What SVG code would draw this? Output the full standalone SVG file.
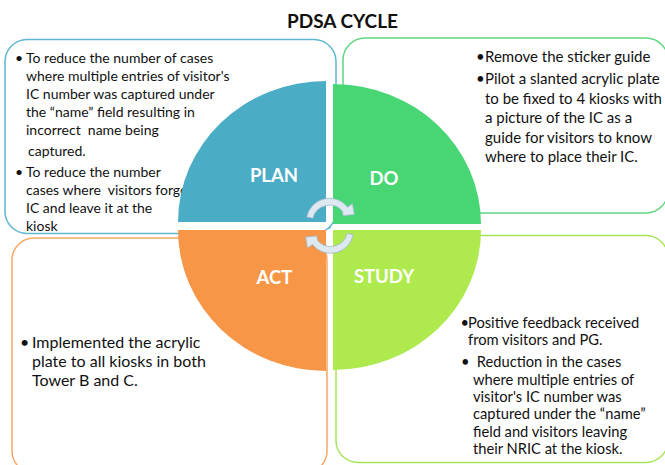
<svg xmlns="http://www.w3.org/2000/svg" width="665" height="465" viewBox="0 0 665 465">
  <defs>
    <style>
      .box { fill: #ffffff; stroke-width: 1.5; }
      .txt { font-family: Lato, "Liberation Sans", sans-serif; fill: #111111; }
      .lbl { font-family: Lato, "Liberation Sans", sans-serif; font-weight: bold; fill: #ffffff; font-size: 18.5px; text-anchor: middle; }
      .title { font-family: Lato, "Liberation Sans", sans-serif; font-weight: bold; fill: #111111; font-size: 19px; text-anchor: middle; }
      .arrow { fill: #dde8f0; stroke: #9fb9cc; stroke-width: 0.8; stroke-linejoin: round; }
    </style>
    <!-- curved cycle arrow, drawn for the upper half; the lower one is the same shape turned 180 degrees -->
    <path id="cycleArrow" d="M306.8,217 A23,23 0 0 1 347.6,207.2 L352.5,203.5 L354.3,214.5 L343.2,215.7 L342.4,211.2 A17,17 0 0 0 312.9,218.2 Z"/>
  </defs>

  <rect width="665" height="465" fill="#ffffff"/>

  <text class="title" x="342.5" y="28">PDSA CYCLE</text>

  <!-- PLAN -->
  <g id="plan">
    <rect class="box" x="5" y="39.5" width="331" height="194" rx="22" stroke="#5fb7d1"/>
    <g class="txt" font-size="14">
      <text x="15" y="63">•</text>
      <text x="26" y="63">To reduce the number of cases</text>
      <text x="26" y="81">where multiple entries of visitor's</text>
      <text x="26" y="99">IC number was captured under</text>
      <text x="26" y="117">the “name” field resulting in</text>
      <text x="26" y="135" xml:space="preserve">incorrect  name being</text>
      <text x="28" y="156">captured.</text>
      <text x="15" y="177">•</text>
      <text x="26" y="177">To reduce the number</text>
      <text x="26" y="195" xml:space="preserve">cases where  visitors forgot their</text>
      <text x="26" y="213">IC and leave it at the</text>
      <text x="26" y="231">kiosk</text>
    </g>
    <path d="M326,222 L178,222 A148,141 0 0 1 326,81 Z" fill="#4bacc6"/>
    <text class="lbl" x="274" y="182">PLAN</text>
  </g>

  <!-- DO -->
  <g id="do">
    <rect class="box" x="343" y="38" width="325" height="175" rx="22" stroke="#5fd682"/>
    <g class="txt" font-size="15">
      <text x="476" y="62">•</text>
      <text x="485" y="62">Remove the sticker guide</text>
      <text x="476" y="84">•</text>
      <text x="485" y="84">Pilot a slanted acrylic plate</text>
      <text x="485" y="104">to be fixed to 4 kiosks with</text>
      <text x="485" y="123">a picture of the IC as a</text>
      <text x="485" y="143">guide for visitors to know</text>
      <text x="485" y="162">where to place their IC.</text>
    </g>
    <path d="M333,224 L333,84 A148,140 0 0 1 481,224 Z" fill="#48d675"/>
    <text class="lbl" x="384" y="185">DO</text>
  </g>

  <!-- STUDY -->
  <g id="study">
    <rect class="box" x="336" y="235.5" width="332" height="227" rx="22" stroke="#a8e45a"/>
    <g class="txt" font-size="14.7">
      <text x="460.5" y="328">•</text>
      <text x="468" y="328">Positive feedback received</text>
      <text x="468" y="345">from visitors and PG.</text>
      <text x="461" y="367">•</text>
      <text x="473" y="367" xml:space="preserve"> Reduction in the cases</text>
      <text x="473" y="385">where multiple entries of</text>
      <text x="473" y="402">visitor's IC number was</text>
      <text x="473" y="419">captured under the “name”</text>
      <text x="473" y="437">field and visitors leaving</text>
      <text x="473" y="454">their NRIC at the kiosk.</text>
    </g>
    <path d="M333,230 L481,230 A148,140 0 0 1 333,370 Z" fill="#aeea4e"/>
    <text class="lbl" x="384" y="283">STUDY</text>
  </g>

  <!-- ACT -->
  <g id="act">
    <rect class="box" x="12" y="238" width="315" height="235" rx="22" stroke="#f8a866"/>
    <g class="txt" font-size="16">
      <text x="20" y="348">•</text>
      <text x="32" y="348">Implemented the acrylic</text>
      <text x="32" y="367">plate to all kiosks in both</text>
      <text x="32" y="386">Tower B and C.</text>
    </g>
    <path d="M326,230 L326,371 A148,141 0 0 1 178,230 Z" fill="#f79646"/>
    <text class="lbl" x="274.5" y="284">ACT</text>
  </g>

  <!-- cycle arrows -->
  <g id="connectors">
    <use href="#cycleArrow" class="arrow"/>
    <use href="#cycleArrow" class="arrow" transform="rotate(180 330 225.8)"/>
    <line x1="328.5" y1="229" x2="331" y2="227" stroke="#4bacc6" stroke-width="1"/>
  </g>
</svg>
